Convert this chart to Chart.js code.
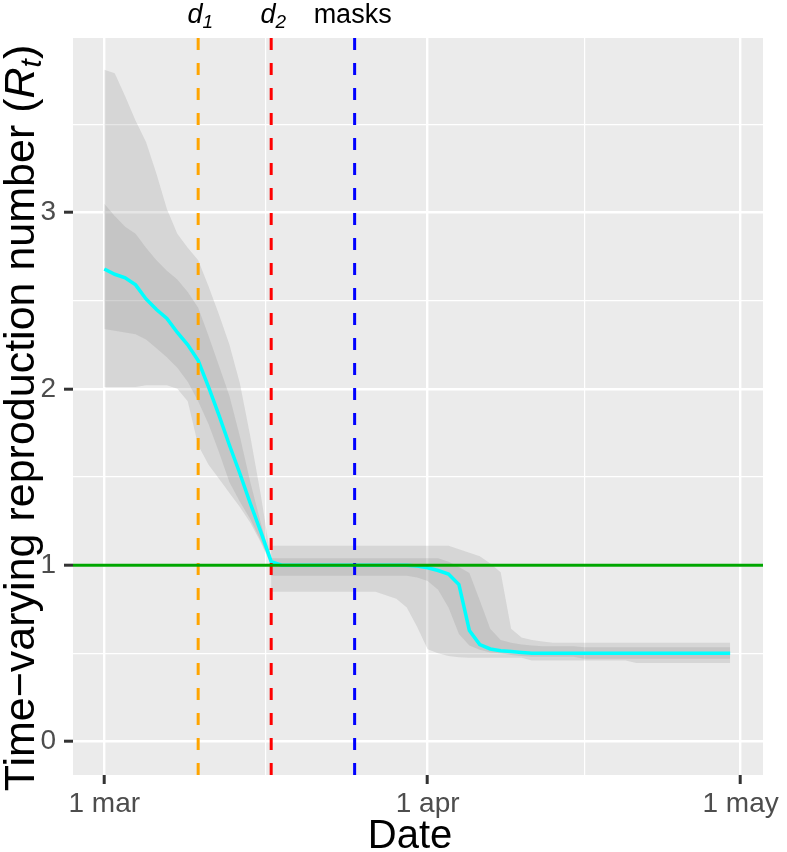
<!DOCTYPE html>
<html>
<head>
<meta charset="utf-8">
<script src="https://cdn.jsdelivr.net/npm/chart.js@4.4.0/dist/chart.umd.min.js"></script>
<style>
  html, body { margin: 0; padding: 0; background: #ffffff; }
  #wrap { width: 787px; height: 852px; position: relative; }
</style>
</head>
<body>
<div id="wrap"><canvas id="rtChart"></canvas></div>
<script>
// days since 1 March (day 16 appears twice: the ribbons restart there)
var days = [0, 1, 2, 3, 4, 5, 6, 7, 8, 9, 10, 11, 12, 13, 14, 15, 16,
    16, 17, 18, 19, 20, 21, 22, 23, 24, 25, 26, 27, 28, 29, 30, 31, 32, 33, 34, 35, 36, 37, 38,
    39, 40, 41, 42, 43, 44, 45, 46, 47, 48, 49, 50, 51, 52, 53, 54, 55, 56, 57, 58, 59, 60];

var rtMean = [2.68, 2.65, 2.63, 2.59, 2.51, 2.45, 2.40, 2.32, 2.25, 2.16, 2.01, 1.85, 1.68, 1.52, 1.35, 1.19, 1.02,
    1.02, 1.00, 1.00, 1.00, 1.00, 1.00, 1.00, 1.00, 1.00, 1.00, 1.00, 1.00, 1.00, 1.00, 0.995, 0.985, 0.97, 0.95, 0.89, 0.63, 0.55, 0.525, 0.515,
    0.51, 0.505, 0.50, 0.50, 0.50, 0.50, 0.50, 0.50, 0.50, 0.50, 0.50, 0.50, 0.50, 0.50, 0.50, 0.50, 0.50, 0.50, 0.50, 0.50, 0.50, 0.50];

var innerHi = [3.05, 2.98, 2.92, 2.88, 2.80, 2.73, 2.67, 2.62, 2.55, 2.46, 2.30, 2.13, 1.96, 1.73, 1.47, 1.24, 1.03,
    1.04, 1.04, 1.04, 1.04, 1.04, 1.04, 1.04, 1.04, 1.04, 1.04, 1.04, 1.04, 1.04, 1.04, 1.04, 1.04, 1.04, 1.02, 0.99, 0.955, 0.80, 0.64, 0.575,
    0.56, 0.55, 0.545, 0.54, 0.54, 0.54, 0.54, 0.535, 0.535, 0.535, 0.535, 0.535, 0.535, 0.535, 0.535, 0.535, 0.535, 0.535, 0.535, 0.535, 0.535, 0.535];

var innerLo = [2.34, 2.33, 2.32, 2.31, 2.28, 2.23, 2.18, 2.12, 2.04, 1.93, 1.80, 1.64, 1.47, 1.36, 1.26, 1.14, 1.01,
    0.94, 0.94, 0.94, 0.94, 0.94, 0.94, 0.94, 0.94, 0.94, 0.94, 0.94, 0.94, 0.94, 0.94, 0.93, 0.91, 0.86, 0.76, 0.61, 0.545, 0.52, 0.505, 0.50,
    0.49, 0.485, 0.48, 0.48, 0.48, 0.48, 0.48, 0.47, 0.47, 0.47, 0.47, 0.47, 0.47, 0.47, 0.47, 0.47, 0.47, 0.47, 0.47, 0.47, 0.47, 0.47];

var outerHi = [3.81, 3.79, 3.66, 3.52, 3.40, 3.22, 3.02, 2.88, 2.80, 2.73, 2.58, 2.42, 2.25, 2.03, 1.73, 1.40, 1.03,
    1.11, 1.11, 1.11, 1.11, 1.11, 1.11, 1.11, 1.11, 1.11, 1.11, 1.11, 1.11, 1.11, 1.11, 1.11, 1.11, 1.11, 1.11, 1.09, 1.07, 1.05, 1.01, 0.96,
    0.64, 0.59, 0.575, 0.567, 0.56, 0.56, 0.56, 0.56, 0.56, 0.56, 0.56, 0.56, 0.56, 0.56, 0.56, 0.56, 0.56, 0.56, 0.56, 0.56, 0.56, 0.56];

var outerLo = [2.01, 2.01, 2.01, 2.01, 2.02, 2.02, 2.02, 2.00, 1.93, 1.68, 1.57, 1.49, 1.41, 1.33, 1.24, 1.13, 1.00,
    0.85, 0.85, 0.85, 0.85, 0.85, 0.85, 0.85, 0.85, 0.85, 0.85, 0.85, 0.83, 0.81, 0.76, 0.65, 0.523, 0.50, 0.485, 0.478, 0.475, 0.475, 0.475, 0.475,
    0.475, 0.475, 0.46, 0.46, 0.46, 0.46, 0.46, 0.46, 0.46, 0.46, 0.46, 0.46, 0.445, 0.445, 0.445, 0.445, 0.445, 0.445, 0.445, 0.445, 0.445, 0.445];

// intervention dates (days since 1 March)
var markerDays = [9, 16, 24];
var markerColors = ['#FFA500', '#FF0000', '#0000FF'];
var markerNames = ['d', 'd', 'masks'];
var markerSubs = ['1', '2', ''];

var xTickValues = [0, 15.5, 31, 46, 61];
var xTickLabels = ['1 mar', '', '1 apr', '', '1 may'];
var yTickValues = [0, 0.5, 1, 1.5, 2, 2.5, 3, 3.5];
var yTickLabels = ['0', '', '1', '', '2', '', '3', ''];

var xMin = -3, xMax = 63.15;
var yMin = -0.19, yMax = 3.99;

function pts(ys) {
    return days.map(function(d, i) { return {x: d, y: ys[i]}; });
}

var FONT = "'Liberation Sans', Arial, sans-serif";

var datasets = [
    {data: [{x: xMin, y: 1}, {x: xMax, y: 1}], borderColor: '#00A600', borderWidth: 3, order: 0},
    {data: pts(rtMean), borderColor: '#00FFFF', borderWidth: 3.5, order: 2},
    {data: pts(innerLo), borderWidth: 0, borderColor: 'transparent', order: 6},
    {data: pts(innerHi), borderWidth: 0, borderColor: 'transparent', backgroundColor: 'rgba(128,128,128,0.2)', fill: 2, order: 3},
    {data: pts(outerLo), borderWidth: 0, borderColor: 'transparent', order: 7},
    {data: pts(outerHi), borderWidth: 0, borderColor: 'transparent', backgroundColor: 'rgba(128,128,128,0.2)', fill: 4, order: 4}
];

markerDays.forEach(function(d, i) {
    datasets.push({
        data: [{x: d, y: yMin}, {x: d, y: yMax}],
        borderColor: markerColors[i], borderWidth: 3, borderDash: [12, 13], order: 1
    });
});

var panelBg = {
    id: 'panelBg',
    beforeDraw: function(chart) {
        var a = chart.chartArea, ctx = chart.ctx;
        ctx.save();
        ctx.fillStyle = '#EBEBEB';
        ctx.fillRect(a.left, a.top, a.right - a.left, a.bottom - a.top);
        ctx.restore();
    }
};

function drawPieces(ctx, pieces, cx, y) {
    var total = 0;
    pieces.forEach(function(p) { ctx.font = p.f; p.w = ctx.measureText(p.t).width; total += p.w; });
    var x = cx - total / 2;
    pieces.forEach(function(p) {
        ctx.font = p.f;
        ctx.fillText(p.t, x, y + (p.dy || 0));
        x += p.w;
    });
}

var labelsPlugin = {
    id: 'labelsPlugin',
    afterDraw: function(chart) {
        var ctx = chart.ctx, xs = chart.scales.x;
        ctx.save();
        ctx.fillStyle = '#000000';
        ctx.textBaseline = 'alphabetic';
        ctx.textAlign = 'left';

        // labels above the dashed lines
        markerDays.forEach(function(d, i) {
            var px = xs.getPixelForValue(d);
            if (markerSubs[i]) {
                drawPieces(ctx, [{t: markerNames[i], f: 'italic 27px ' + FONT},
                                 {t: markerSubs[i], f: 'italic 19px ' + FONT, dy: 5}], px + 2, 23);
            } else {
                drawPieces(ctx, [{t: markerNames[i], f: '27px ' + FONT}], px - 2, 23);
            }
        });

        // x title
        drawPieces(ctx, [{t: 'Date', f: '40px ' + FONT}], 410, 848);

        // y title
        ctx.translate(34, 418);
        ctx.rotate(-Math.PI / 2);
        drawPieces(ctx, [
            {t: 'Time\u2212varying reproduction number (', f: '43px ' + FONT},
            {t: 'R', f: 'italic 43px ' + FONT},
            {t: 't', f: 'italic 30px ' + FONT, dy: 7},
            {t: ')', f: '43px ' + FONT}
        ], 0, 0);
        ctx.restore();
    }
};

new Chart(document.getElementById('rtChart').getContext('2d'), {
    type: 'line',
    data: {datasets: datasets},
    plugins: [panelBg, labelsPlugin],
    options: {
        responsive: true,
        maintainAspectRatio: false,
        animation: false,
        layout: {padding: {top: 38, right: 24, left: 0, bottom: 0}},
        elements: {point: {radius: 0}, line: {tension: 0}},
        plugins: {legend: {display: false}, tooltip: {enabled: false}},
        scales: {
            x: {
                type: 'linear', min: xMin, max: xMax,
                afterBuildTicks: function(s) { s.ticks = xTickValues.map(function(v) { return {value: v}; }); },
                afterFit: function(s) { s.height = 77; },
                border: {display: false},
                grid: {
                    color: '#FFFFFF',
                    lineWidth: function(c) { return xTickLabels[c.index] ? 2.4 : 1.2; },
                    tickColor: function(c) { return xTickLabels[c.index] ? '#333333' : 'rgba(0,0,0,0)'; },
                    tickWidth: 3, tickLength: 9
                },
                ticks: {
                    autoSkip: false, maxRotation: 0, padding: 3,
                    color: '#4D4D4D', font: {family: FONT, size: 28},
                    callback: function(v, i) { return xTickLabels[i]; }
                }
            },
            y: {
                type: 'linear', min: yMin, max: yMax,
                afterBuildTicks: function(s) { s.ticks = yTickValues.map(function(v) { return {value: v}; }); },
                afterFit: function(s) { s.width = 73; },
                border: {display: false},
                grid: {
                    color: '#FFFFFF',
                    lineWidth: function(c) { return yTickLabels[c.index] ? 2.4 : 1.2; },
                    tickColor: function(c) { return yTickLabels[c.index] ? '#333333' : 'rgba(0,0,0,0)'; },
                    tickWidth: 3, tickLength: 9
                },
                ticks: {
                    autoSkip: false, padding: 8,
                    color: '#4D4D4D', font: {family: FONT, size: 28},
                    callback: function(v, i) { return yTickLabels[i]; }
                }
            }
        }
    }
});
</script>
</body>
</html>
